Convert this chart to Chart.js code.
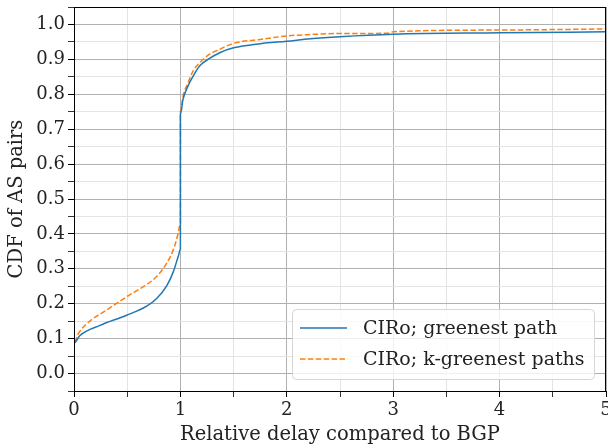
<!DOCTYPE html>
<html>
<head>
<meta charset="utf-8">
<script src="https://cdn.jsdelivr.net/npm/chart.js@4/dist/chart.umd.min.js"></script>
<style>
  html, body { margin: 0; padding: 0; background: #fff; }
  #wrap { width: 608px; height: 448px; }
</style>
</head>
<body>
<div id="wrap"><canvas id="cdf-chart" width="608" height="448"></canvas></div>
<script>
// values
const greenestX = [0, 0, 0.056, 0.245, 0.495, 0.683, 0.777, 0.871, 0.934, 0.98, 1.0, 1.0, 1.025, 1.072, 1.12, 1.18, 1.27, 1.37, 1.5, 1.75, 2.0, 2.22, 2.5, 3.0, 4.0, 5.0];
const greenestY = [0, 0.0875, 0.109, 0.138, 0.167, 0.193, 0.215, 0.251, 0.292, 0.336, 0.355, 0.743, 0.786, 0.824, 0.852, 0.881, 0.902, 0.919, 0.933, 0.945, 0.952, 0.959, 0.965, 0.972, 0.976, 0.979];

const kGreenestX = [0, 0, 0.04, 0.12, 0.307, 0.495, 0.652, 0.777, 0.871, 0.934, 0.98, 1.0, 1.0, 1.025, 1.072, 1.12, 1.18, 1.27, 1.37, 1.5, 1.75, 2.0, 2.22, 2.5, 2.95, 3.0, 4.0, 5.0];
const kGreenestY = [0, 0.0875, 0.114, 0.143, 0.182, 0.22, 0.249, 0.278, 0.316, 0.355, 0.403, 0.432, 0.75, 0.795, 0.833, 0.867, 0.89, 0.914, 0.929, 0.946, 0.957, 0.967, 0.971, 0.974, 0.975, 0.979, 0.984, 0.987];

const seriesLabels = ["CIRo; greenest path", "CIRo; k-greenest paths"];
const xTicks = [0, 1, 2, 3, 4, 5];
const yTicks = [0.0, 0.1, 0.2, 0.3, 0.4, 0.5, 0.6, 0.7, 0.8, 0.9, 1.0];

const FONT = "'DejaVu Serif', 'Liberation Serif', serif";
const TICK_SIZE = 18;
const TITLE_SIZE = 19.5;
const LEGEND_SIZE = 19;
const TEXT = "#222";

function toPoints(xs, ys) {
  return xs.map((x, i) => ({ x: x, y: ys[i] }));
}

function isMajor(v, list) {
  return list.some(t => Math.abs(t - v) < 1e-6);
}

// frame round the plot area + matplotlib-like legend box
const framePlugin = {
  id: "frame",
  afterDatasetsDraw(chart) {
    const { ctx, chartArea: a } = chart;
    ctx.save();
    ctx.strokeStyle = "#000";
    ctx.lineWidth = 1;
    ctx.strokeRect(a.left + 0.5, a.top + 0.5, a.right - a.left - 1, a.bottom - a.top);
    ctx.restore();
  },
  afterDraw(chart) {
    const { ctx } = chart;
    const bx = 292, by = 309, bw = 302, bh = 70, r = 4;
    ctx.save();
    ctx.beginPath();
    ctx.roundRect(bx + 0.5, by + 0.5, bw, bh, r);
    ctx.fillStyle = "rgba(255,255,255,0.8)";
    ctx.fill();
    ctx.strokeStyle = "#d6d6d6";
    ctx.lineWidth = 1;
    ctx.stroke();

    chart.data.datasets.forEach((ds, i) => {
      const y = by + 19 + i * 31;
      ctx.beginPath();
      ctx.setLineDash(ds.borderDash || []);
      ctx.strokeStyle = ds.borderColor;
      ctx.lineWidth = ds.borderWidth;
      ctx.moveTo(bx + 8, y);
      ctx.lineTo(bx + 55, y);
      ctx.stroke();
      ctx.setLineDash([]);
      ctx.fillStyle = TEXT;
      ctx.font = LEGEND_SIZE + "px " + FONT;
      ctx.textBaseline = "middle";
      ctx.textAlign = "left";
      ctx.fillText(ds.label, bx + 71, y + 1);
    });
    ctx.restore();
  }
};

const ctx = document.getElementById("cdf-chart").getContext("2d");
new Chart(ctx, {
  type: "line",
  data: {
    datasets: [
      {
        label: seriesLabels[0],
        data: toPoints(greenestX, greenestY),
        borderColor: "#1f77b4",
        borderWidth: 1.5,
        pointRadius: 0,
        cubicInterpolationMode: "monotone",
        fill: false
      },
      {
        label: seriesLabels[1],
        data: toPoints(kGreenestX, kGreenestY),
        borderColor: "#ff7f0e",
        borderWidth: 1.5,
        borderDash: [5.5, 2.4],
        pointRadius: 0,
        cubicInterpolationMode: "monotone",
        fill: false
      }
    ]
  },
  options: {
    responsive: false,
    animation: false,
    layout: { padding: { top: 7, right: 2, left: 0, bottom: 0 } },
    plugins: {
      legend: { display: false },
      tooltip: { enabled: false }
    },
    scales: {
      x: {
        type: "linear",
        min: 0,
        max: 5,
        afterFit(scale) {
          scale.height = 57;
          scale.paddingLeft = 0;
          scale.paddingRight = 0;
        },
        ticks: {
          stepSize: 0.5,
          autoSkip: false,
          maxRotation: 0,
          padding: 3,
          color: TEXT,
          font: { family: FONT, size: TICK_SIZE },
          callback: v => isMajor(v, xTicks) ? String(Math.round(v)) : ""
        },
        grid: {
          color: c => isMajor(c.tick.value, xTicks) ? "#b0b0b0" : "#e4e4e4",
          tickColor: "#000",
          tickLength: 6,
          tickWidth: c => isMajor(c.tick.value, xTicks) ? 1 : 0.8
        },
        border: { color: "#000", width: 1 },
        title: {
          display: true,
          text: "Relative delay compared to BGP",
          color: TEXT,
          font: { family: FONT, size: TITLE_SIZE },
          padding: { top: 0, bottom: 1 }
        }
      },
      y: {
        min: -0.05,
        max: 1.05,
        afterFit(scale) {
          scale.width = 74;
          scale.paddingTop = 0;
          scale.paddingBottom = 0;
        },
        ticks: {
          stepSize: 0.05,
          autoSkip: false,
          padding: 3,
          color: TEXT,
          font: { family: FONT, size: TICK_SIZE },
          callback: v => isMajor(v, yTicks) ? (Math.round(v * 10) / 10).toFixed(1) : ""
        },
        grid: {
          color: c => isMajor(c.tick.value, yTicks) ? "#b0b0b0" : "#e4e4e4",
          tickColor: "#000",
          tickLength: 6,
          tickWidth: c => isMajor(c.tick.value, yTicks) ? 1 : 0.8
        },
        border: { color: "#000", width: 1 },
        title: {
          display: true,
          text: "CDF of AS pairs",
          color: TEXT,
          font: { family: FONT, size: TITLE_SIZE },
          padding: { top: 5, bottom: 2 }
        }
      }
    }
  },
  plugins: [framePlugin]
});
</script>
</body>
</html>
